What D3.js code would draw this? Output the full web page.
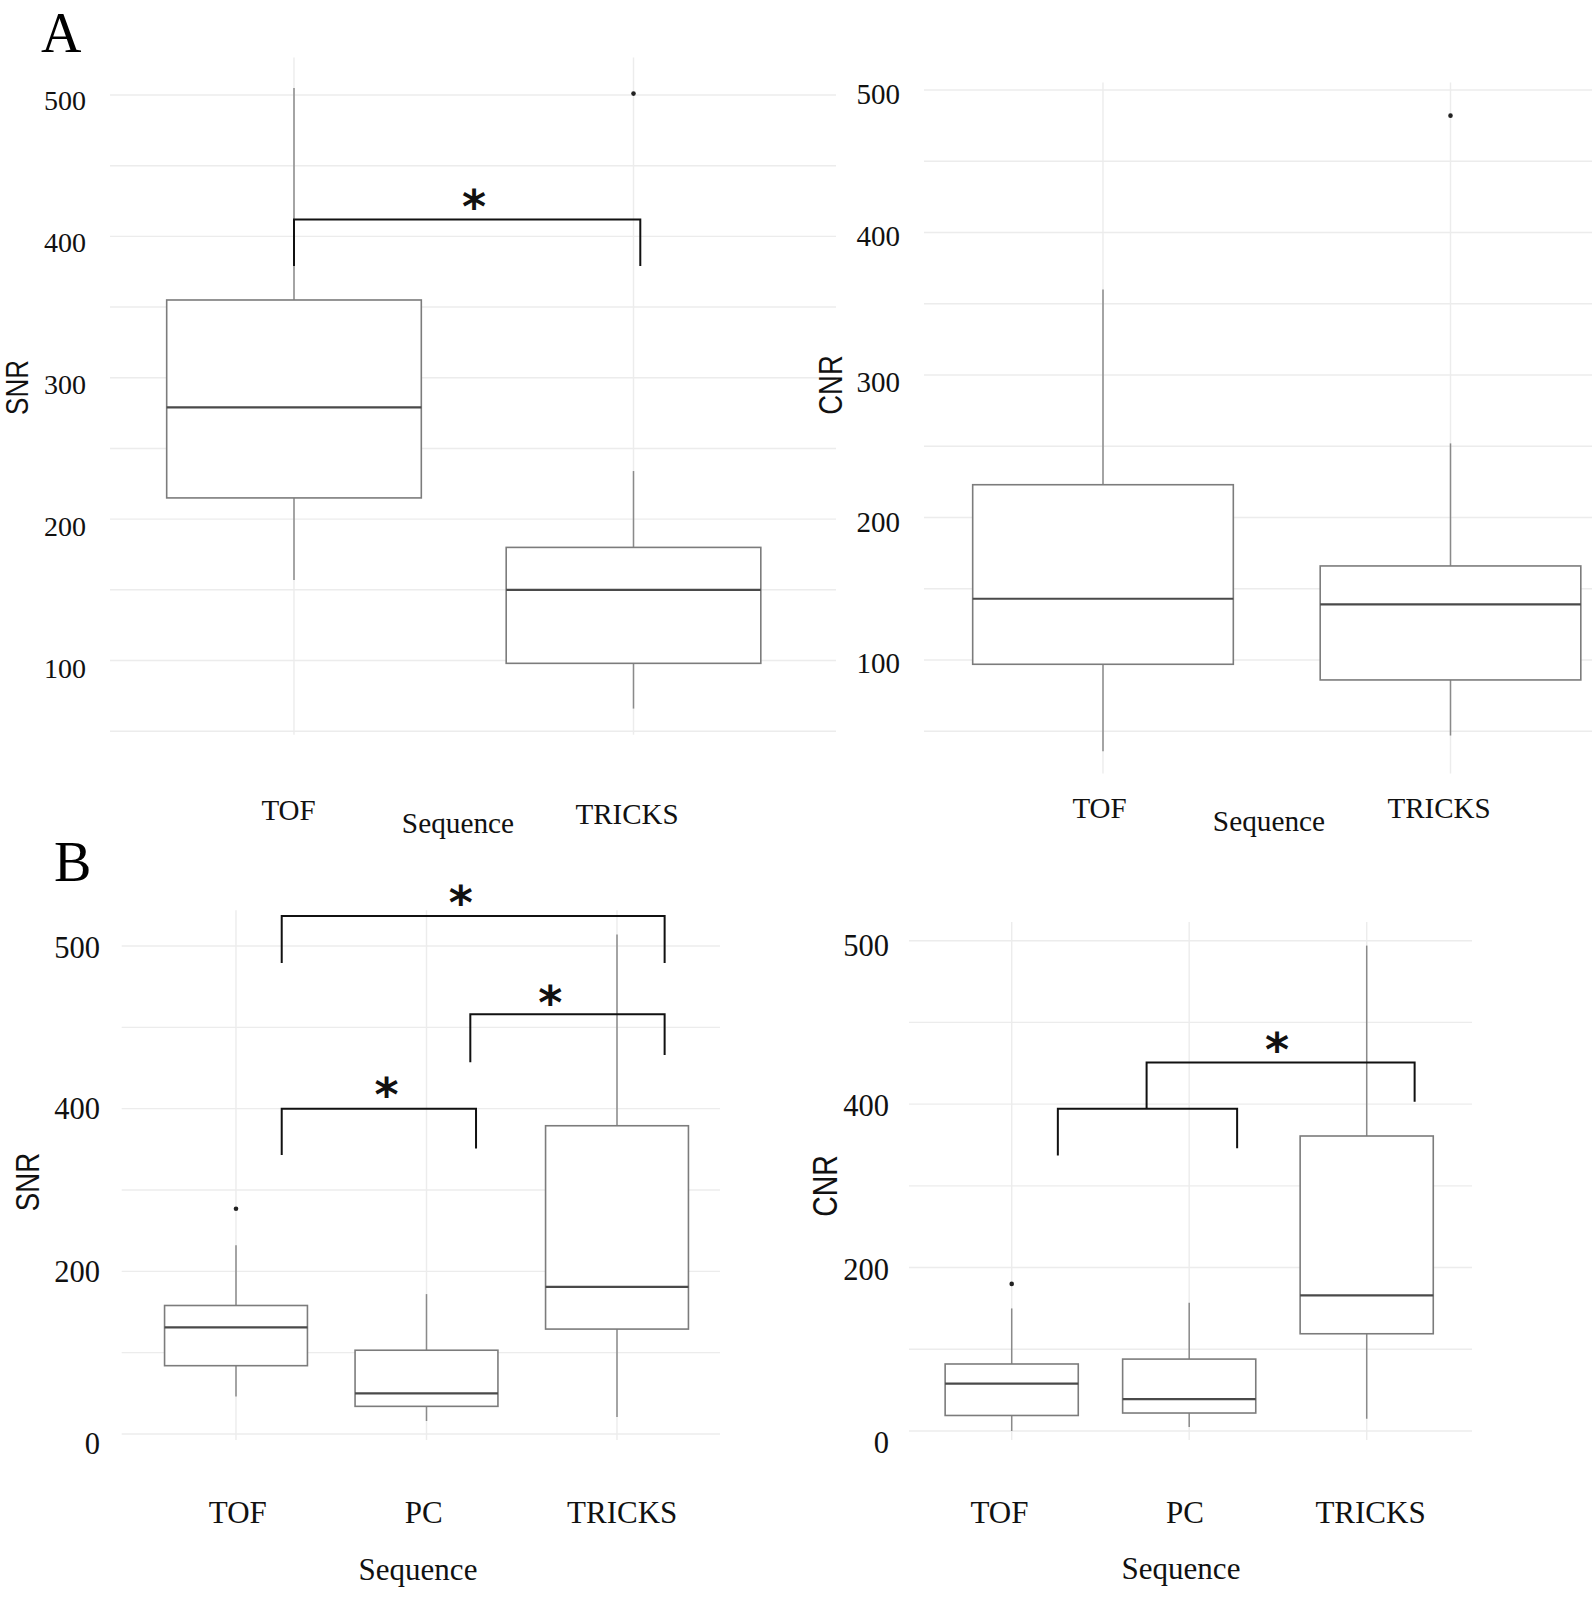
<!DOCTYPE html>
<html>
<head>
<meta charset="utf-8">
<script src="https://cdn.jsdelivr.net/npm/d3@7"></script>
<style>
body{margin:0;background:#fff;}
svg{display:block;}
</style>
</head>
<body>
<svg id="chart" width="1595" height="1607"></svg>
<script>
// sequences
var seqA = ["TOF", "TRICKS"];
var seqB = ["TOF", "PC", "TRICKS"];

// box stats per sequence: [lower whisker, Q1, median, Q3, upper whisker]
var snrA = [[157, 215, 279, 355, 505], [66, 98, 150, 180, 234]];
var snrAOut = [[], [501]];
var cnrA = [[36, 97, 143, 223, 360], [47, 86, 139, 166, 252]];
var cnrAOut = [[], [482]];

var snrB = [[46, 84, 131, 158, 232], [16, 34, 50, 103, 172], [21, 129, 181, 379, 614]];
var snrBOut = [[277], [], []];
var cnrB = [[0, 19, 58, 82, 150], [5, 22, 39, 88, 157], [15, 119, 166, 361, 594]];
var cnrBOut = [[180], [], []];

// tick values / labels (panel B labels are printed as in the figure)
var ticksA = [100, 200, 300, 400, 500];
var ticksB = [0, 200, 400, 600];
var tickLabelsB = ["0", "200", "400", "500"];

// significance brackets: [from index, to index, bar, left foot, right foot]
var sigSnrA = [[0.0, 1.02, 412, 379, 379]];
var starSnrA = [[0.53, 429]];
var sigCnrA = [];
var starCnrA = [];
var sigSnrB = [[0.24, 2.25, 637, 579, 579], [1.23, 2.25, 516, 457, 466], [0.24, 1.26, 400, 343, 351]];
var starSnrB = [[1.18, 667], [1.65, 544], [0.79, 430]];
var sigCnrB = [[0.26, 1.27, 394.5, 337, 346], [0.76, 2.27, 451, 394.5, 403]];
var starCnrB = [[1.495, 480]];

var svg = d3.select("#chart");
var serif = "'Liberation Serif','Times New Roman',serif";
var sans = "'Liberation Sans',Arial,sans-serif";
var starSize = 46;

var panels = [
	{cats: seqA, stats: snrA, out: snrAOut, sig: sigSnrA, stars: starSnrA, ticks: ticksA, tickLabels: null, title: "SNR",
	 xr: [294, 633.5], yd: [100, 500], yr: [660.5, 95], gx: [110, 836], gy: [47.4, 526.5], grid: d3.range(50, 501, 50),
	 tickX: 86, tickDy: [7, 7, 6.5, 6, 5], tickSize: 28, titleX: 17.5, titleY: 387.5, titleSize: 26,
	 catY: [820, 824], catDx: [-6, -7], catSize: 29, seqX: 458, seqY: 833, seqSize: 29.3},
	{cats: seqA, stats: cnrA, out: cnrAOut, sig: sigCnrA, stars: starCnrA, ticks: ticksA, tickLabels: null, title: "CNR",
	 xr: [1103, 1450.5], yd: [100, 500], yr: [660, 90], gx: [924, 1592], gy: [20.4, 505.3], grid: d3.range(50, 501, 50),
	 tickX: 900, tickDy: [2.5, 3.5, 6.5, 2.5, 3.5], tickSize: 29, titleX: 831, titleY: 385, titleSize: 27.5,
	 catY: [818, 818], catDx: [-4, -12], catSize: 29, seqX: 1269, seqY: 831, seqSize: 29.3},
	{cats: seqB, stats: snrB, out: snrBOut, sig: sigSnrB, stars: starSnrB, ticks: ticksB, tickLabels: tickLabelsB, title: "SNR",
	 xr: [236, 617], yd: [0, 600], yr: [1434, 946], gx: [121.7, 720], gy: [-7.4, 644], grid: d3.range(0, 601, 100),
	 tickX: 100, tickDy: [9, 0, 0, 1], tickSize: 30.5, titleX: 27.2, titleY: 1182, titleSize: 27.6,
	 catY: [1523, 1523, 1523], catDx: [1.3, -3.2, 4.7], catSize: 31, seqX: 418, seqY: 1580, seqSize: 31},
	{cats: seqB, stats: cnrB, out: cnrBOut, sig: sigCnrB, stars: starCnrB, ticks: ticksB, tickLabels: tickLabelsB, title: "CNR",
	 xr: [1011.7, 1366.7], yd: [0, 600], yr: [1431, 940.7], gx: [909, 1472], gy: [-11, 623], grid: d3.range(0, 601, 100),
	 tickX: 889, tickDy: [11, 1.5, 1.7, 4.3], tickSize: 30.5, titleX: 825.7, titleY: 1186, titleSize: 28.5,
	 catY: [1523, 1523, 1523], catDx: [-12.7, -4.7, 3.3], catSize: 31, seqX: 1181, seqY: 1579, seqSize: 31}
];

panels.forEach(function(p){
	var x = d3.scaleLinear().domain([0, p.cats.length - 1]).range(p.xr);
	var y = d3.scaleLinear().domain(p.yd).range(p.yr);
	var g = svg.append("g");
	var boxW = (x(1) - x(0)) * 0.75;

	// grid
	g.selectAll(".hgrid").data(p.grid).enter().append("line")
		.attr("x1", p.gx[0]).attr("x2", p.gx[1])
		.attr("y1", function(d){ return y(d); }).attr("y2", function(d){ return y(d); })
		.attr("stroke", "#ececec").attr("stroke-width", 1.4);
	g.selectAll(".vgrid").data(p.cats).enter().append("line")
		.attr("x1", function(d, i){ return x(i); }).attr("x2", function(d, i){ return x(i); })
		.attr("y1", y(p.gy[0])).attr("y2", y(p.gy[1]))
		.attr("stroke", "#ececec").attr("stroke-width", 1.4);

	// boxes
	var box = g.selectAll(".box").data(p.stats).enter().append("g");
	box.append("line")
		.attr("x1", function(d, i){ return x(i); }).attr("x2", function(d, i){ return x(i); })
		.attr("y1", function(d){ return y(d[3]); }).attr("y2", function(d){ return y(d[4]); })
		.attr("stroke", "#8a8a8a").attr("stroke-width", 1.5);
	box.append("line")
		.attr("x1", function(d, i){ return x(i); }).attr("x2", function(d, i){ return x(i); })
		.attr("y1", function(d){ return y(d[0]); }).attr("y2", function(d){ return y(d[1]); })
		.attr("stroke", "#8a8a8a").attr("stroke-width", 1.5);
	box.append("rect")
		.attr("x", function(d, i){ return x(i) - boxW / 2; })
		.attr("width", boxW)
		.attr("y", function(d){ return y(d[3]); })
		.attr("height", function(d){ return y(d[1]) - y(d[3]); })
		.attr("fill", "#fff").attr("stroke", "#7c7c7c").attr("stroke-width", 1.6);
	box.append("line")
		.attr("x1", function(d, i){ return x(i) - boxW / 2; }).attr("x2", function(d, i){ return x(i) + boxW / 2; })
		.attr("y1", function(d){ return y(d[2]); }).attr("y2", function(d){ return y(d[2]); })
		.attr("stroke", "#4a4a4a").attr("stroke-width", 2.2);

	// outliers
	p.out.forEach(function(vals, i){
		g.selectAll(null).data(vals).enter().append("circle")
			.attr("cx", x(i)).attr("cy", function(d){ return y(d); })
			.attr("r", 2.3).attr("fill", "#222");
	});

	// significance brackets
	g.selectAll(".sig").data(p.sig).enter().append("path")
		.attr("d", function(d){
			return "M" + x(d[0]) + "," + y(d[3]) + "V" + y(d[2]) + "H" + x(d[1]) + "V" + y(d[4]);
		})
		.attr("fill", "none").attr("stroke", "#111").attr("stroke-width", 2);
	g.selectAll(".star").data(p.stars).enter().append("text")
		.attr("x", function(d){ return x(d[0]); })
		.attr("y", function(d){ return y(d[1]) + 0.59 * starSize; })
		.attr("text-anchor", "middle")
		.attr("font-family", "'DejaVu Sans',sans-serif").attr("font-weight", "bold")
		.attr("font-size", starSize)
		.attr("fill", "#111")
		.text("*");

	// y axis
	var yAxis = d3.axisLeft(y).tickValues(p.ticks).tickSize(0).tickPadding(0)
		.tickFormat(function(d, i){ return p.tickLabels ? p.tickLabels[i] : d; });
	var ya = g.append("g").attr("transform", "translate(" + p.tickX + ",0)").call(yAxis);
	ya.select(".domain").remove();
	ya.attr("font-family", serif).attr("font-size", p.tickSize);
	ya.selectAll("text").attr("fill", "#111").attr("dy", null)
		.attr("dominant-baseline", "central")
		.attr("y", function(d, i){ return p.tickDy[i]; });

	// x axis labels
	var xAxis = d3.axisBottom(x).tickValues(d3.range(p.cats.length)).tickSize(0).tickPadding(0)
		.tickFormat(function(i){ return p.cats[i]; });
	var xa = g.append("g").call(xAxis);
	xa.select(".domain").remove();
	xa.attr("font-family", serif).attr("font-size", p.catSize);
	xa.selectAll("text").attr("fill", "#111").attr("dy", null)
		.attr("x", function(d, i){ return p.catDx[i]; })
		.attr("y", function(d, i){ return p.catY[i]; });

	g.append("text")
		.attr("x", p.seqX).attr("y", p.seqY)
		.attr("text-anchor", "middle")
		.attr("font-family", serif).attr("font-size", p.seqSize).attr("fill", "#111")
		.text("Sequence");

	g.append("text")
		.attr("transform", "translate(" + p.titleX + "," + p.titleY + ") rotate(-90) scale(1,1.2)")
		.attr("text-anchor", "middle").attr("dominant-baseline", "central")
		.attr("font-family", sans).attr("font-size", p.titleSize).attr("fill", "#111")
		.text(p.title);
});

// panel letters
svg.append("text").attr("x", 41).attr("y", 52)
	.attr("font-family", serif).attr("font-size", 56).attr("fill", "#000").text("A");
svg.append("text").attr("x", 54).attr("y", 881)
	.attr("font-family", serif).attr("font-size", 56).attr("fill", "#000").text("B");
</script>
</body>
</html>
